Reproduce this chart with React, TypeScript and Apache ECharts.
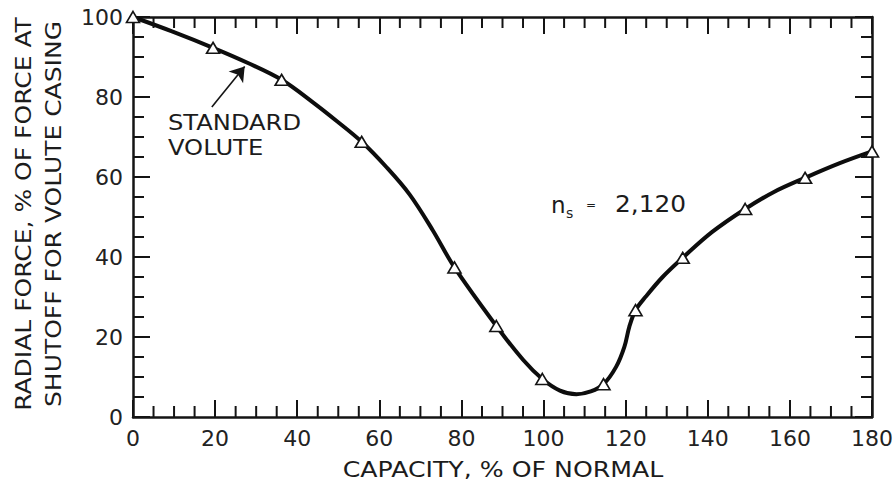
import React, { useEffect, useRef } from "react";
import * as echarts from "echarts";

// Measured test points (open triangles)
const markerX = [0, 19.5, 36.2, 55.7, 78.3, 88.5, 99.7, 114.6, 122.4, 133.9, 149.1, 163.7, 180];
const markerY = [100, 92.3, 84.3, 68.8, 37.4, 22.75, 9.5, 8.2, 26.7, 39.8, 52, 59.8, 66.4];

// Faired curve
const curveX = [0, 9.5, 19.5, 28, 36.2, 43.9, 49.6, 55.7, 61.7, 67.4, 73, 78.3, 88.5, 95, 99.7, 104, 108, 111.5, 114.6, 117.7, 119.7, 120.9, 122.4, 124.9, 129, 133.9, 141, 149.1, 156, 163.7, 172, 180];
const curveY = [100, 96.4, 92.3, 88.5, 84.3, 78.6, 74, 68.8, 62.5, 55.6, 46.7, 37.4, 22.75, 14.3, 9.5, 6.6, 5.7, 6.4, 8.2, 12.6, 17.6, 22.6, 26.7, 30.1, 35, 39.8, 46.2, 52, 56.2, 59.8, 63.4, 66.4];

const xTicks = [0, 20, 40, 60, 80, 100, 120, 140, 160, 180];
const yTicks = [0, 20, 40, 60, 80, 100];
const xMinorTicks = [5, 10, 15, 25, 30, 35, 45, 50, 55, 65, 70, 75, 85, 90, 95, 105, 110, 115, 125, 130, 135, 145, 150, 155, 165, 170, 175];
const yMinorTicks = [5, 10, 15, 25, 30, 35, 45, 50, 55, 65, 70, 75, 85, 90, 95];

const arrowFrom = [19.2, 77.5];
const arrowTo = [27.2, 87.6];

const xTitle = "CAPACITY, % OF NORMAL";
const yTitle1 = "RADIAL FORCE, % OF FORCE AT";
const yTitle2 = "SHUTOFF FOR VOLUTE CASING";
const curveLabel = "STANDARD\nVOLUTE";

const INK = "#141414";
const FONT = "DejaVu Sans";
const X_MAX = 180;
const Y_MAX = 100;
const MINOR = 11;

export default function App() {
  const ref = useRef<HTMLDivElement>(null);
  useEffect(() => {
    document.body.style.margin = "0";
    const chart = echarts.init(ref.current!, null, { renderer: "svg" });
    const tickStyle = { color: INK, width: 2 };
    const labelStyle = (vals: number[]) => ({
      show: true,
      margin: 10,
      fontSize: 22,
      fontFamily: FONT,
      color: "#222",
      customValues: vals,
    });
    const axis = (o: any, onZero: boolean) => ({
      type: "value",
      min: 0,
      splitLine: { show: false },
      axisLine: { show: true, onZero, lineStyle: { color: INK, width: 2.5 } },
      axisTick: { show: true, inside: true, length: 17, lineStyle: tickStyle },
      ...o,
    });

    // Minor ticks drawn as thin rect symbols through the chart's scales
    const tickSeries = (data: number[][], size: number[], offset: number[]) => ({
      type: "scatter",
      xAxisIndex: 0,
      yAxisIndex: 0,
      silent: true,
      clip: false,
      data,
      symbol: "rect",
      symbolSize: size,
      symbolOffset: offset,
      itemStyle: { color: INK, opacity: 1 },
      z: 4,
    });

    const txt = (
      text: string,
      x: number,
      y: number,
      fontSize: number,
      align: string,
      opts: any = {}
    ) => ({
      type: "text",
      x,
      y,
      rotation: opts.rotation || 0,
      scaleX: opts.scaleX || 1,
      silent: true,
      style: {
        text,
        fontSize,
        fontFamily: FONT,
        fill: "#1c1c1c",
        align,
        textAlign: align,
        verticalAlign: "middle",
        textVerticalAlign: "middle",
        lineHeight: opts.lineHeight || fontSize * 1.2,
      },
    });

    chart.setOption({
      animation: false,
      backgroundColor: "#ffffff",
      grid: { left: 133, right: 23, top: 17, bottom: 70 },
      xAxis: [
        axis({ position: "bottom", max: X_MAX, interval: 20, axisLabel: labelStyle(xTicks) }, true),
        axis({ position: "top", max: X_MAX, interval: 20, axisLabel: { show: false } }, false),
      ],
      yAxis: [
        axis({ position: "left", max: Y_MAX, interval: 20, axisLabel: labelStyle(yTicks) }, true),
        axis({ position: "right", max: Y_MAX, interval: 20, axisLabel: { show: false } }, false),
      ],
      series: [
        tickSeries(xMinorTicks.map((v) => [v, 0]), [2, MINOR], [0, -MINOR / 2]),
        tickSeries(xMinorTicks.map((v) => [v, Y_MAX]), [2, MINOR], [0, MINOR / 2]),
        tickSeries(yMinorTicks.map((v) => [0, v]), [MINOR, 2], [MINOR / 2, 0]),
        tickSeries(yMinorTicks.map((v) => [X_MAX, v]), [MINOR, 2], [-MINOR / 2, 0]),
        {
          type: "line",
          xAxisIndex: 0,
          yAxisIndex: 0,
          data: curveX.map((x, i) => [x, curveY[i]]),
          smooth: 0.35,
          showSymbol: false,
          symbol: "none",
          lineStyle: { color: "#0d0d0d", width: 4 },
          z: 3,
          markLine: {
            silent: true,
            symbol: ["none", "arrow"],
            symbolSize: 14,
            label: { show: false },
            lineStyle: { color: INK, width: 1.6, type: "solid" },
            data: [[{ coord: arrowFrom }, { coord: arrowTo }]],
          },
        },
        {
          type: "scatter",
          xAxisIndex: 0,
          yAxisIndex: 0,
          data: markerX.map((x, i) => [x, markerY[i]]),
          symbol: "triangle",
          symbolSize: [13, 11],
          itemStyle: { color: "#ffffff", borderColor: INK, borderWidth: 1.6, opacity: 1 },
          z: 5,
        },
      ],
      graphic: [
        txt(xTitle, 503, 469, 21, "center", { scaleX: 1.2 }),
        txt(yTitle1 + "\n" + yTitle2, 38.5, 214, 21, "center", {
          rotation: Math.PI / 2,
          scaleX: 1.19,
          lineHeight: 29.5,
        }),
        txt(curveLabel, 168, 135, 22, "left", { scaleX: 1.1, lineHeight: 24.5 }),
        txt("n", 551, 204.5, 23, "left"),
        txt("s", 566, 212.5, 14, "left"),
        txt("=", 586, 204.5, 12, "left"),
        txt("2,120", 615, 204, 23, "left", { scaleX: 1.08 }),
      ],
    });

    return () => chart.dispose();
  }, []);
  return <div ref={ref} style={{ width: 896, height: 487 }} />;
}
